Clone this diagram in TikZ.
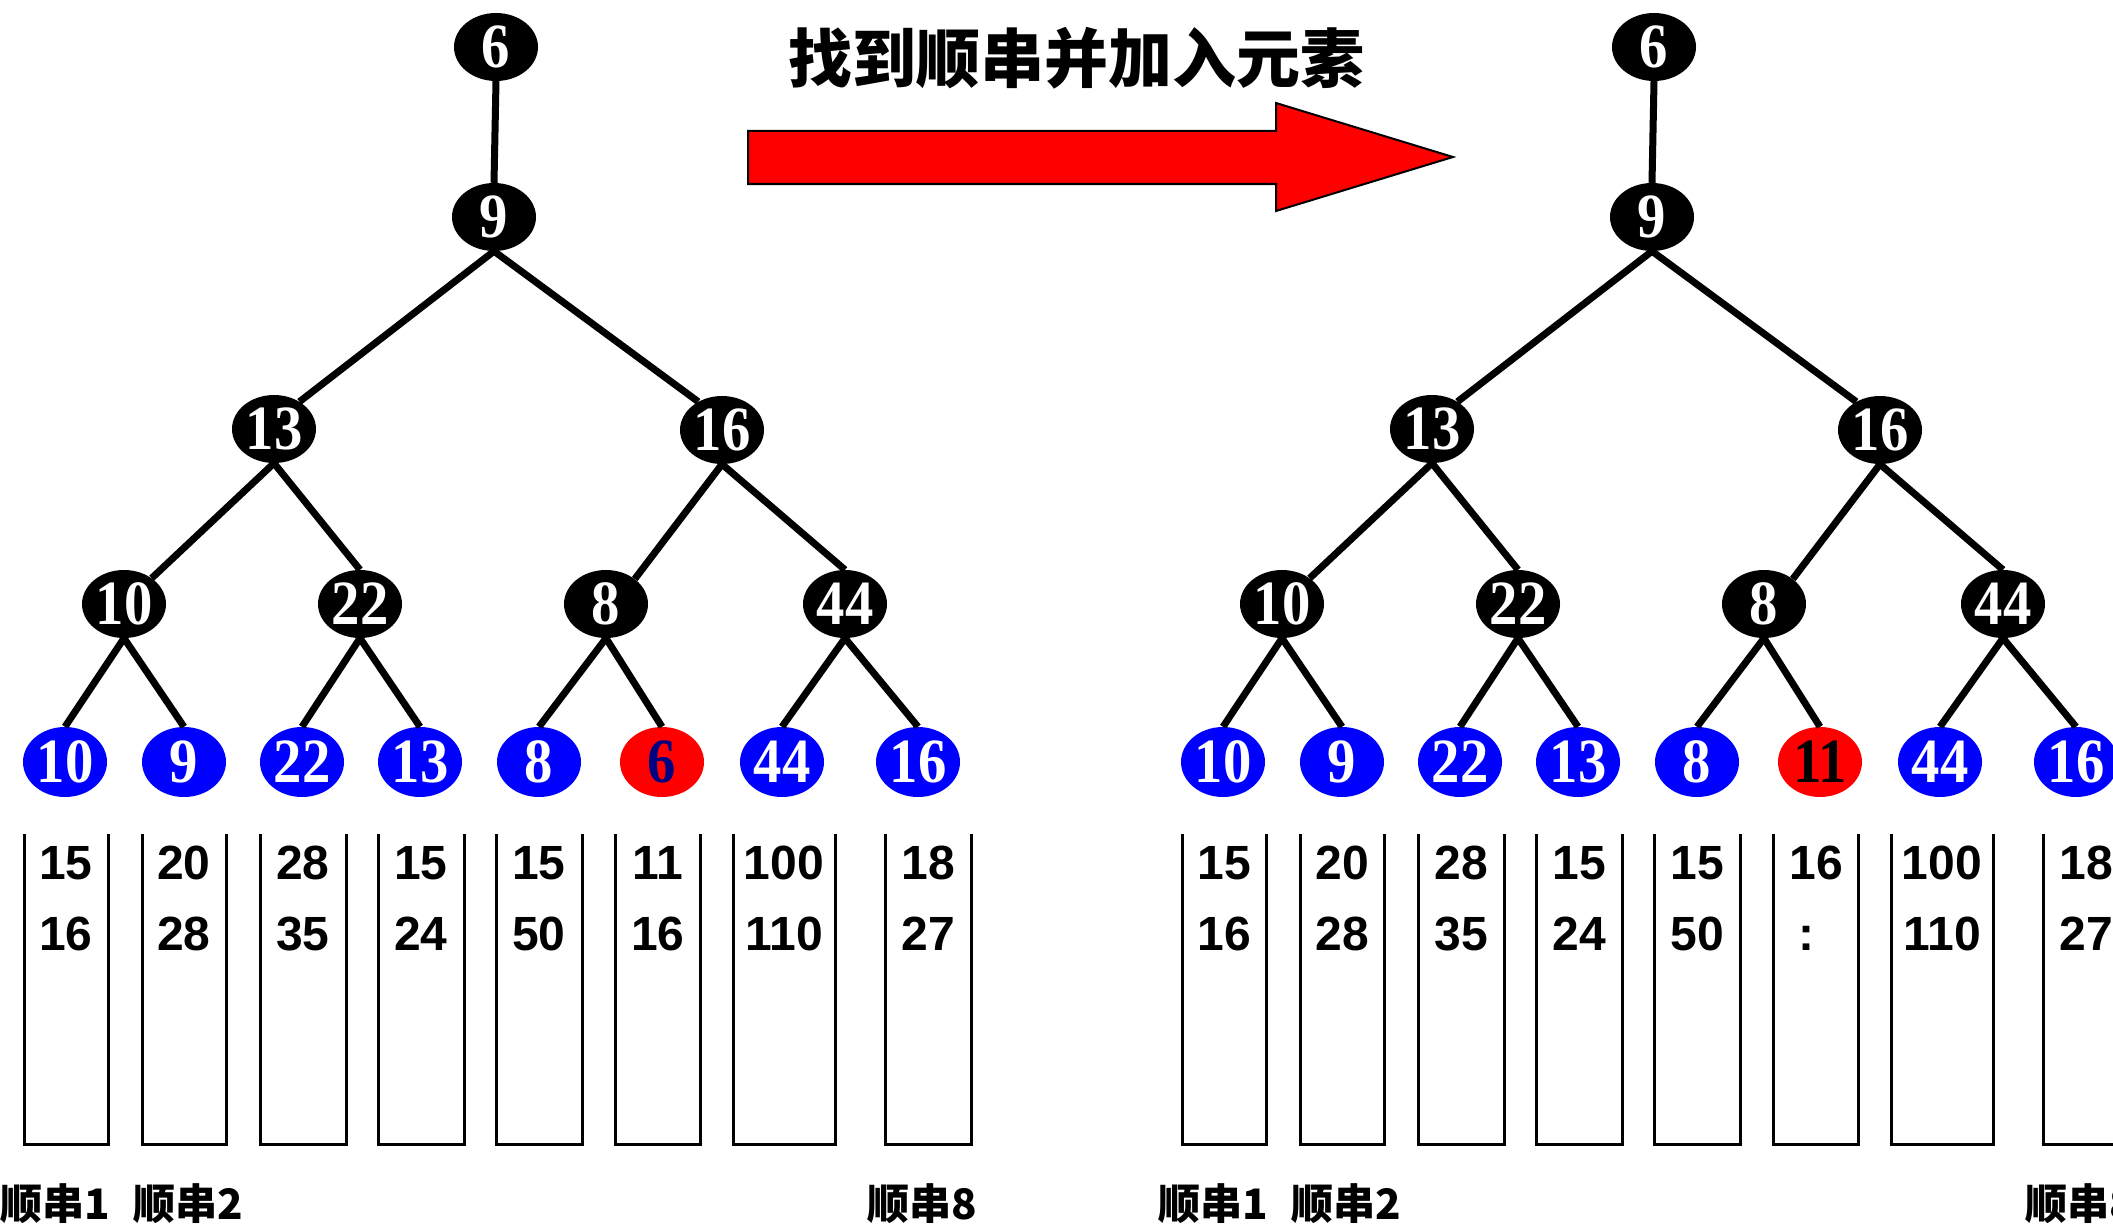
\documentclass[tikz,border=0pt]{standalone}
\usepackage{fontspec}
\usetikzlibrary{shapes.geometric}
\setmainfont{Liberation Sans}
\newfontfamily\numfont{Liberation Serif}[FakeStretch=0.9]
\newfontfamily\boxfont{Liberation Sans}
\newfontfamily\cjkfont{Noto Sans CJK SC}
\definecolor{navyblue}{RGB}{0,0,128}
\tikzset{
  tn/.style={ellipse, fill=black, text=white, minimum width=84pt, minimum height=68pt,
    inner sep=0pt, font=\numfont\bfseries\fontsize{63}{63}\selectfont},
  leafb/.style={tn, fill=blue, minimum height=70pt},
  leafr/.style={tn, fill=red, minimum height=70pt},
  edge/.style={line width=7pt},
  boxline/.style={line width=3pt},
  num/.style={font=\boxfont\bfseries\fontsize{48}{48}\selectfont, anchor=base, inner sep=0pt},
  lab/.style={font=\cjkfont\bfseries\fontsize{42}{42}\selectfont, anchor=base, inner sep=0pt},
  ttl/.style={font=\cjkfont\bfseries\fontsize{64}{64}\selectfont, anchor=base, inner sep=0pt},
  bigarrow/.style={fill=red, draw=black, line width=2pt, line join=miter},
}
% #1 prefix, #2 shift, #3 leaf-6 text, #4 leaf-6 text colour,
% #5 box-6 first entry, #6 box-6 second entry, #7 x of box-6 second entry
\newcommand\drawpanel[7]{%
\begin{scope}[xshift=#2pt]
  % inner tree nodes
  \node[tn] (#1n6)  at (496,47)  {6};
  \node[tn] (#1n9)  at (494,217) {9};
  \node[tn] (#1n13) at (274,429) {13};
  \node[tn] (#1n16) at (722,430) {16};
  \node[tn] (#1n10) at (124,604) {10};
  \node[tn] (#1n22) at (360,604) {22};
  \node[tn] (#1n8)  at (606,604) {8};
  \node[tn] (#1n44) at (845,604) {44};
  % leaves
  \node[leafb] (#1l1) at (65,762)  {10};
  \node[leafb] (#1l2) at (184,762) {9};
  \node[leafb] (#1l3) at (302,762) {22};
  \node[leafb] (#1l4) at (420,762) {13};
  \node[leafb] (#1l5) at (539,762) {8};
  \node[leafr, text=#4] (#1l6) at (662,762) {#3};
  \node[leafb] (#1l7) at (782,762) {44};
  \node[leafb] (#1l8) at (918,762) {16};
  % edges
  \draw[edge] (#1n6.south)  -- (#1n9.north);
  \draw[edge] (#1n9.south)  -- (#1n13.47);
  \draw[edge] (#1n9.south)  -- (#1n16.130);
  \draw[edge] (#1n13.south) -- (#1n10.43);
  \draw[edge] (#1n13.south) -- (#1n22.north);
  \draw[edge] (#1n16.south) -- (#1n8.41);
  \draw[edge] (#1n16.south) -- (#1n44.north);
  \draw[edge] (#1n10.south) -- (#1l1.north);
  \draw[edge] (#1n10.south) -- (#1l2.north);
  \draw[edge] (#1n22.south) -- (#1l3.north);
  \draw[edge] (#1n22.south) -- (#1l4.north);
  \draw[edge] (#1n8.south)  -- (#1l5.north);
  \draw[edge] (#1n8.south)  -- (#1l6.north);
  \draw[edge] (#1n44.south) -- (#1l7.north);
  \draw[edge] (#1n44.south) -- (#1l8.north);
  % runs (open-top boxes)
  \draw[boxline] (24,834)  -- (24,1144)  -- (108,1144) -- (108,834);
  \draw[boxline] (142,834) -- (142,1144) -- (226,1144) -- (226,834);
  \draw[boxline] (260,834) -- (260,1144) -- (346,1144) -- (346,834);
  \draw[boxline] (378,834) -- (378,1144) -- (464,1144) -- (464,834);
  \draw[boxline] (496,834) -- (496,1144) -- (582,1144) -- (582,834);
  \draw[boxline] (615,834) -- (615,1144) -- (700,1144) -- (700,834);
  \draw[boxline] (733,834) -- (733,1144) -- (835,1144) -- (835,834);
  \draw[boxline] (885,834) -- (885,1144) -- (971,1144) -- (971,834);
  % run contents
  \node[num] (#1b1a) at (66,879)  {15};  \node[num] (#1b1b) at (66,950)  {16};
  \node[num] (#1b2a) at (184,879) {20};  \node[num] (#1b2b) at (184,950) {28};
  \node[num] (#1b3a) at (303,879) {28};  \node[num] (#1b3b) at (303,950) {35};
  \node[num] (#1b4a) at (421,879) {15};  \node[num] (#1b4b) at (421,950) {24};
  \node[num] (#1b5a) at (539,879) {15};  \node[num] (#1b5b) at (539,950) {50};
  \node[num] (#1b6a) at (658,879) {#5};  \node[num] (#1b6b) at (#7,950) {#6};
  \node[num] (#1b7a) at (784,879) {100}; \node[num] (#1b7b) at (784,950) {110};
  \node[num] (#1b8a) at (928,879) {18};  \node[num] (#1b8b) at (928,950) {27};
  % run labels
  \node[lab] (#1s1) at (55,1219)  {顺串1};
  \node[lab] (#1s2) at (188,1219) {顺串2};
  \node[lab] (#1s8) at (922,1219) {顺串8};
\end{scope}}

\begin{document}
\begin{tikzpicture}[x=1pt,y=-1pt]
\useasboundingbox (0,0) rectangle (2113,1228);
\begin{scope}
\clip (0,0) rectangle (2113,1228);
\fill[white] (0,0) rectangle (2113,1228);
\drawpanel{L}{0}{6}{navyblue}{11}{16}{658}
\drawpanel{R}{1158}{11}{black}{16}{:}{648}
% title and big arrow
\node[ttl] (title) at (1076,83) {找到顺串并加入元素};
\draw[bigarrow] (748,131) -- (1276,131) -- (1276,103) -- (1453,157)
  -- (1276,211) -- (1276,184) -- (748,184) -- cycle;
\end{scope}
\end{tikzpicture}
\end{document}
